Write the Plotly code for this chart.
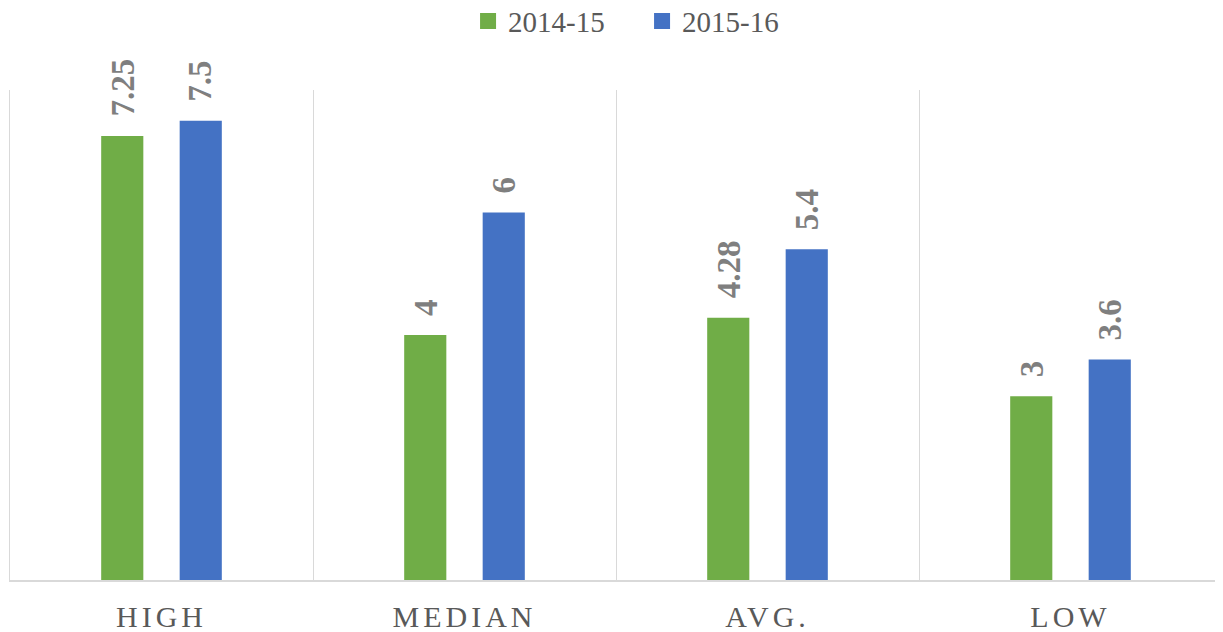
import plotly.graph_objects as go

categories = ["HIGH", "MEDIAN", "AVG.", "LOW"]
series_names = ["2014-15", "2015-16"]
values_2014_15 = [7.25, 4, 4.28, 3]
values_2015_16 = [7.5, 6, 5.4, 3.6]
series_values = [values_2014_15, values_2015_16]
series_colors = ["#70AD47", "#4472C4"]

FONT = "Liberation Serif"
tick_text = ['<span style="letter-spacing:4px">%s</span>' % c for c in categories]

fig = go.Figure()
for name, vals, col in zip(series_names, series_values, series_colors):
    fig.add_trace(go.Bar(
        x=categories, y=vals, name=name, legendgroup=name, showlegend=False,
        marker=dict(color=col, line=dict(width=0)),
    ))
# legend-only entries (larger square swatches)
for name, col in zip(series_names, series_colors):
    fig.add_trace(go.Scatter(
        x=[None], y=[None], mode="markers", name=name, legendgroup=name,
        marker=dict(symbol="square", size=16, color=col),
    ))

annotations = []
for k, (vals, shift) in enumerate(zip(series_values, [-39, 39])):
    for c, v in zip(categories, vals):
        annotations.append(dict(
            x=c, y=v, xref="x", yref="y", text=f"<b>{v:g}</b>",
            showarrow=False, textangle=-90, xshift=shift, yshift=17,
            yanchor="bottom", xanchor="center",
            font=dict(family=FONT, size=33, color="#7F7F7F"),
        ))

# The page body has an 8px margin, so the figure is sized to fit the window.
fig.update_layout(
    width=1215, height=624,
    margin=dict(l=2, r=1, t=82, b=52, autoexpand=False),
    plot_bgcolor="white", paper_bgcolor="white",
    barmode="group", bargap=0.482, bargroupgap=0.463,
    font=dict(family=FONT, color="#595959"),
    showlegend=True,
    legend=dict(orientation="h", x=0.5215, xanchor="center", y=0.979, yref="container",
                yanchor="middle", font=dict(family=FONT, size=29, color="#595959"),
                itemwidth=30, entrywidth=129, traceorder="normal"),
    annotations=annotations,
)
fig.update_xaxes(
    type="category", range=[-0.5, 3.5], tickson="boundaries",
    tickvals=categories, ticktext=tick_text,
    showgrid=True, gridcolor="#D9D9D9", gridwidth=1,
    showline=True, linecolor="#D9D9D9", linewidth=2,
    ticks="", ticklabelstandoff=9,
    tickfont=dict(family=FONT, size=30, color="#595959"),
)
fig.update_yaxes(
    range=[0, 8], showgrid=False, zeroline=False, showticklabels=False,
    showline=True, linecolor="#D9D9D9", linewidth=1, ticks="",
)

fig.write_html("out.html")
